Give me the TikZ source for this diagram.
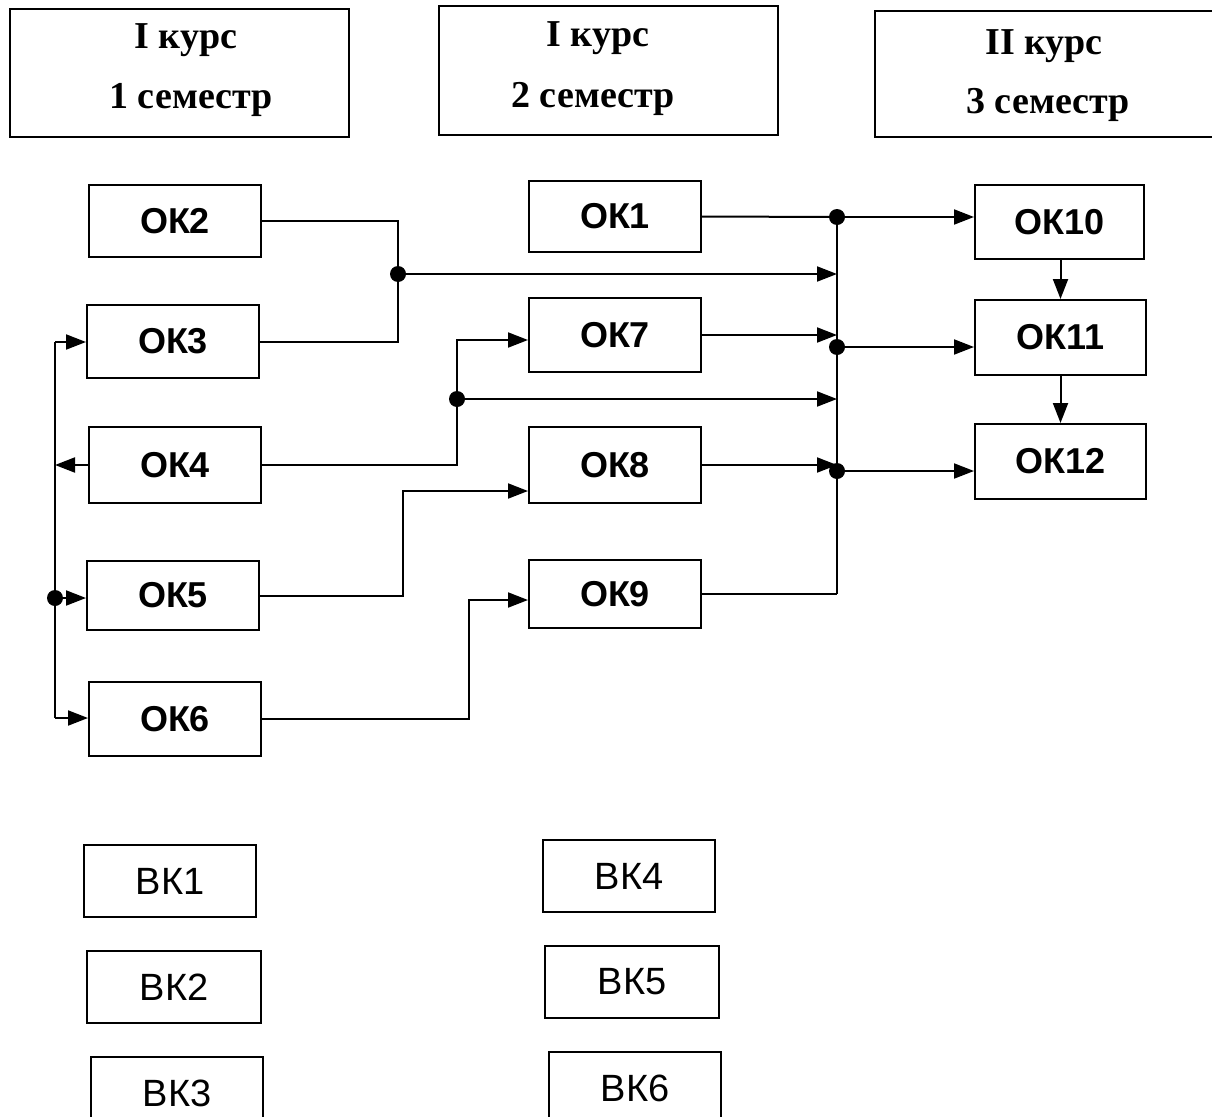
\documentclass[tikz,border=0pt]{standalone}
\usepackage{fontspec}
\setmainfont{Liberation Serif}
\newfontfamily\okfont{Liberation Sans}
\usetikzlibrary{arrows.meta}
\begin{document}
\begin{tikzpicture}[x=1pt,y=-1pt,
  box/.style={draw,line width=2pt,inner sep=0pt,font=\okfont\fontsize{38}{42}\selectfont},
  okbox/.style={box,font=\okfont\fontsize{36}{42}\selectfont\bfseries},
  hdr/.style={font=\fontsize{38}{42}\selectfont\bfseries,inner sep=0pt},
  ln/.style={line width=2pt},
  arr/.style={line width=2pt,-{Triangle[length=20pt,width=15pt]}},
  dot/.style={circle,fill,inner sep=0pt,minimum size=16pt}]
\useasboundingbox (0,0) rectangle (1212,1116);
\fill[white] (0,0) rectangle (1212,1116);
% headers
\draw[line width=2pt] (10,9) rectangle (349,137);
\draw[line width=2pt] (439,6) rectangle (778,135);
\draw[line width=2pt] (875,11) rectangle (1220,137);
\node[hdr] (h1a) at (186,40) {I курс};
\node[hdr] (h1b) at (191,100) {1 семестр};
\node[hdr] (h2a) at (598,38) {I курс};
\node[hdr] (h2b) at (593,99) {2 семестр};
\node[hdr] (h3a) at (1044,46) {II курс};
\node[hdr] (h3b) at (1048,105) {3 семестр};
% OK boxes
\node[okbox,minimum width=172pt,minimum height=72pt] (ok2) at (175,221) {ОК2};
\node[okbox,minimum width=172pt,minimum height=73pt] (ok3) at (173,341.5) {ОК3};
\node[okbox,minimum width=172pt,minimum height=76pt] (ok4) at (175,465) {ОК4};
\node[okbox,minimum width=172pt,minimum height=69pt] (ok5) at (173,595.5) {ОК5};
\node[okbox,minimum width=172pt,minimum height=74pt] (ok6) at (175,719) {ОК6};
\node[okbox,minimum width=172pt,minimum height=71pt] (ok1) at (615,216.5) {ОК1};
\node[okbox,minimum width=172pt,minimum height=74pt] (ok7) at (615,335) {ОК7};
\node[okbox,minimum width=172pt,minimum height=76pt] (ok8) at (615,465) {ОК8};
\node[okbox,minimum width=172pt,minimum height=68pt] (ok9) at (615,594) {ОК9};
\node[okbox,minimum width=169pt,minimum height=74pt] (ok10) at (1059.5,222) {ОК10};
\node[okbox,minimum width=171pt,minimum height=75pt] (ok11) at (1060.5,337.5) {ОК11};
\node[okbox,minimum width=171pt,minimum height=75pt] (ok12) at (1060.5,461.5) {ОК12};
% VK boxes
\node[box,minimum width=172pt,minimum height=72pt] (vk1) at (170,881) {ВК1};
\node[box,minimum width=174pt,minimum height=72pt] (vk2) at (174,987) {ВК2};
\node[box,minimum width=172pt,minimum height=72pt] (vk3) at (177,1093) {ВК3};
\node[box,minimum width=172pt,minimum height=72pt] (vk4) at (629,876) {ВК4};
\node[box,minimum width=174pt,minimum height=72pt] (vk5) at (632,982) {ВК5};
\node[box,minimum width=172pt,minimum height=72pt] (vk6) at (635,1088) {ВК6};
% coordinates
\coordinate (j1) at (398,274);
\coordinate (busT) at (837,217);
\coordinate (busB) at (837,594);
\coordinate (d11) at (837,347);
\coordinate (d12) at (837,471);
\coordinate (j2) at (457,399);
\coordinate (c47) at (457,340);
\coordinate (c58) at (403,491);
\coordinate (c69) at (469,600);
\coordinate (lb3) at (55,342);
\coordinate (lb5) at (55,598);
\coordinate (lb6) at (55,718);
% connectors
\draw[ln] (ok2.east) -| (j1);
\draw[ln] (ok3.east) -| (j1);
\draw[arr] (j1) -- (j1 -| busT);
\draw[ln] (ok1.east) -- (busT);
\draw[arr] (busT) -- (ok10.west |- busT);
\draw[ln] (busT) -- (busB);
\draw[ln] (ok9.east) -| (busB);
\draw[arr] (ok7.east) -- (ok7.east -| busT);
\draw[arr] (d11) -- (ok11.west |- d11);
\draw[arr] (ok8.east) -- (ok8.east -| busT);
\draw[arr] (d12) -- (ok12.west |- d12);
\draw[arr] (ok4.east) -| (c47) -- (ok7.west |- c47);
\draw[arr] (j2) -- (j2 -| busT);
\draw[arr] (ok5.east) -| (c58) -- (ok8.west |- c58);
\draw[arr] (ok6.east) -| (c69) -- (ok9.west |- c69);
\draw[arr] (ok11.north |- ok10.south) -- (ok11.north);
\draw[arr] (ok11.south) -- (ok12.north);
\draw[ln] (lb3) -- (lb6);
\draw[arr] (lb3) -- (ok3.west |- lb3);
\draw[arr] (ok4.west) -- (ok4.west -| lb3);
\draw[arr] (lb5) -- (ok5.west |- lb5);
\draw[arr] (lb6) -- (ok6.west |- lb6);
% dots
\node[dot] (n1) at (j1) {};
\node[dot] (n2) at (busT) {};
\node[dot] (n3) at (d11) {};
\node[dot] (n4) at (d12) {};
\node[dot] (n5) at (j2) {};
\node[dot] (n6) at (lb5) {};
\end{tikzpicture}
\end{document}
